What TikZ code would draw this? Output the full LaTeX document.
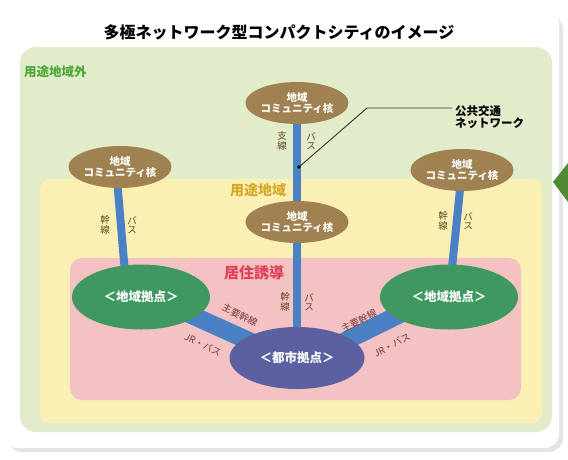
\documentclass[tikz,border=0pt]{standalone}
\usepackage{fontspec}
\newfontfamily\jp{Noto Sans CJK JP}
\usetikzlibrary{shapes.geometric,calc}
\definecolor{areagreen}{RGB}{226,236,203}
\definecolor{areayellow}{RGB}{250,240,180}
\definecolor{areapink}{RGB}{244,194,194}
\definecolor{commbrown}{RGB}{160,130,82}
\definecolor{hubgreen}{RGB}{62,152,96}
\definecolor{citypurple}{RGB}{92,96,160}
\definecolor{linkblue}{RGB}{74,128,196}
\definecolor{labgreen}{RGB}{76,168,58}
\definecolor{labyellow}{RGB}{214,168,40}
\definecolor{labred}{RGB}{224,64,88}
\definecolor{labbrown}{RGB}{100,70,40}
\definecolor{labmaroon}{RGB}{120,56,56}
\definecolor{markgreen}{RGB}{80,138,50}
\pgfdeclarelayer{areas}
\pgfdeclarelayer{links}
\pgfsetlayers{areas,links,main}
\newcommand{\fsz}[1]{\fontsize{#1}{#1}\selectfont}
\begin{document}
\begin{tikzpicture}[x=1pt,y=-1pt,font=\jp,
  comm/.style={ellipse,fill=commbrown,text=white,align=center,inner sep=0pt,
    minimum width=100pt,minimum height=42pt,font=\jp\bfseries\fsz{10.5}},
  hub/.style={ellipse,fill=hubgreen,text=white,inner sep=0pt,
    minimum width=138pt,minimum height=65pt,font=\jp\bfseries\fsz{12.5}},
  city/.style={ellipse,fill=citypurple,text=white,inner sep=0pt,
    minimum width=135pt,minimum height=62pt,font=\jp\bfseries\fsz{12.5}},
  conn/.style={draw=linkblue,line width=8pt},
  band/.style={draw=linkblue,line width=18pt,shorten <=-25pt,shorten >=-25pt},
  vlab/.style={align=center,inner sep=0pt,text=labbrown,font=\jp\fsz{9.5}},
  blab/.style={inner sep=0pt,text=labmaroon,font=\jp\fsz{9.5}},
  arealab/.style={inner sep=0pt,font=\jp\bfseries\fsz{#1}},
]
\useasboundingbox (0,0) rectangle (568,459);

% areas
\begin{pgfonlayer}{areas}
\fill[black!10,rounded corners=14pt] (8,15) rectangle (563,452);
\fill[white,rounded corners=14pt] (4,11) rectangle (559,448);
\fill[areagreen,rounded corners=16pt] (20,47) rectangle (552,432);
\fill[areayellow,rounded corners=10pt] (40,179) rectangle (542,423);
\fill[areapink,rounded corners=12pt] (70,258) rectangle (521,400);
\fill[markgreen] (553,182) -- (568,163) -- (568,202) -- cycle;
\end{pgfonlayer}

\node[font=\jp\bfseries\fsz{16}] (title) at (279,32) {多極ネットワーク型コンパクトシティのイメージ};
\node[arealab=12.5,text=labgreen,anchor=west] (outside) at (24,72) {用途地域外};
\node[arealab=14,text=labyellow] (zone) at (258,190) {用途地域};
\node[arealab=15,text=labred] (resid) at (254,273) {居住誘導};

% nodes
\node[comm] (t) at (297,103) {地域\\コミュニティ核};
\node[comm] (m) at (297,222) {地域\\コミュニティ核};
\node[comm] (l) at (120,167) {地域\\コミュニティ核};
\node[comm] (r) at (462,170) {地域\\コミュニティ核};
\node[hub] (lh) at (141,297) {＜地域拠点＞};
\node[hub] (rh) at (449,297) {＜地域拠点＞};
\node[city] (c) at (297,358) {＜都市拠点＞};

% links
\begin{pgfonlayer}{links}
\draw[conn] (t.center) -- (m.center);
\draw[conn] (m.center) -- (c.center);
\draw[conn] ([xshift=-4pt]l.center) -- ([xshift=-14pt]lh.center);
\draw[conn] (r.center) -- (rh.center);
\draw[band] (lh.340) -- (c.160);
\draw[band] (rh.200) -- (c.20);
\end{pgfonlayer}

% link labels
\node[vlab] (s1) at (282,141) {支\\線};
\node[vlab] (s2) at (311,141) {バ\\ス};
\node[vlab] (k1) at (285,302) {幹\\線};
\node[vlab] (k2) at (309,302) {バ\\ス};
\node[vlab] (k3) at (105,225) {幹\\線};
\node[vlab] (k4) at (132,225) {バ\\ス};
\node[vlab] (k5) at (443,221) {幹\\線};
\node[vlab] (k6) at (468,221) {バ\\ス};
\node[blab,rotate=-26] (lm) at (240,315) {主要幹線};
\node[blab,rotate=-26] (lj) at (203,345) {JR・バス};
\node[blab,rotate=27] (rm) at (359,321) {主要幹線};
\node[blab,rotate=27] (rj) at (392,345) {JR・バス};

% callout
\node[anchor=west,align=left,inner sep=3pt,font=\jp\bfseries\fsz{11.5}] (pt) at (452,117) {公共交通\\ネットワーク};
\coordinate (bend) at (367,108);
\coordinate (dot) at (299,167);
\draw[black!80,line width=0.9pt] (pt.west |- bend) -- (bend) -- (dot);
\fill[black] (dot) circle (1.8pt);
\end{tikzpicture}
\end{document}
